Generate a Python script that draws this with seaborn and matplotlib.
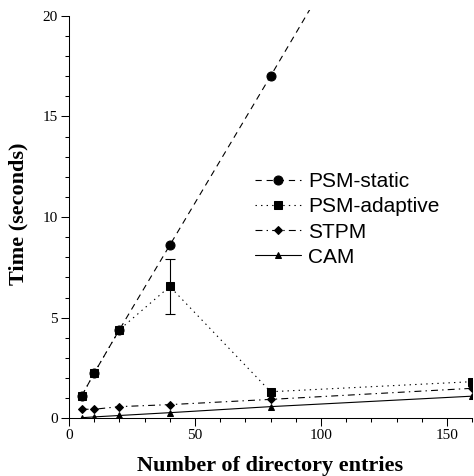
import numpy as np
import pandas as pd
import matplotlib
matplotlib.use("Agg")
import matplotlib.pyplot as plt
from matplotlib.ticker import MultipleLocator
import seaborn as sns

# ---- data ----
entries = [5, 10, 20, 40, 80, 160]
psm_static = [1.1, 2.25, 4.4, 8.6, 17.0, 34.0]
psm_adaptive = [1.1, 2.25, 4.4, 6.55, 1.32, 1.82]
stpm = [0.45, 0.45, 0.58, 0.68, 0.94, 1.49]
cam = [0.03, 0.07, 0.14, 0.28, 0.58, 1.1]
adaptive_err_x = [40]
adaptive_err_y = [6.55]
adaptive_err_lo = [1.35]
adaptive_err_hi = [1.35]
series_names = ["PSM-static", "PSM-adaptive", "STPM", "CAM"]

sns.set_theme(style="ticks")
plt.rcParams["lines.scale_dashes"] = False
serif = ["Liberation Serif", "DejaVu Serif"]
sans = ["Liberation Sans", "DejaVu Sans"]

fig = plt.figure(figsize=(4.74, 4.76), dpi=100)
ax = fig.add_axes([0.1456, 0.1212, 0.8504, 0.8584])

styles = {
    "PSM-static": dict(marker="o", markersize=6.5, dashes=(4.5, 3.5)),
    "PSM-adaptive": dict(marker="s", markersize=6.0, dashes=(1, 3)),
    "STPM": dict(marker="D", markersize=4.5, dashes=(5, 3, 1, 3)),
    "CAM": dict(marker="^", markersize=5.0, dashes=()),
}
values = {"PSM-static": psm_static, "PSM-adaptive": psm_adaptive,
          "STPM": stpm, "CAM": cam}

for name in series_names:
    st = styles[name]
    df = pd.DataFrame({"x": entries, "y": values[name]})
    kw = dict(color="black", linewidth=0.8, marker=st["marker"],
              markersize=st["markersize"], markeredgecolor="black",
              markerfacecolor="black", label=name)
    if st["dashes"]:
        kw["dashes"] = st["dashes"]
    sns.lineplot(data=df, x="x", y="y", ax=ax, **kw)

ax.errorbar(adaptive_err_x, adaptive_err_y,
            yerr=[adaptive_err_lo, adaptive_err_hi], fmt="none",
            ecolor="black", elinewidth=0.8, capsize=3.5, capthick=0.8)

ax.set_xlim(0, 160)
ax.set_ylim(0, 20.3)
ax.spines["top"].set_visible(False)
ax.spines["right"].set_visible(False)
ax.spines["left"].set_bounds(0, 20)
for s in ["left", "bottom"]:
    ax.spines[s].set_linewidth(0.75)
    ax.spines[s].set_color("black")

ax.set_xticks([0, 50, 100, 150])
ax.set_yticks([0, 5, 10, 15, 20])
ax.xaxis.set_minor_locator(MultipleLocator(10))
ax.yaxis.set_minor_locator(MultipleLocator(1))
ax.tick_params(which="major", direction="out", length=6, width=0.75,
               color="black", labelsize=11, pad=2)
ax.tick_params(which="minor", direction="out", length=3, width=0.75,
               color="black")
for lab in ax.get_xticklabels() + ax.get_yticklabels():
    lab.set_fontfamily(serif)
    lab.set_color("black")

ax.set_xlabel("Number of directory entries", fontsize=16, fontweight="bold",
              family=serif, color="black", labelpad=10)
ax.set_ylabel("Time (seconds)", fontsize=16, fontweight="bold",
              family=serif, color="black", labelpad=10)
ax.grid(False)

leg = ax.legend(loc="upper left", bbox_to_anchor=(255 / 474, 1 - 172 / 476),
                bbox_transform=fig.transFigure, frameon=False,
                borderpad=0, borderaxespad=0, handlelength=2.2,
                handletextpad=0.35, labelspacing=0.3,
                prop=dict(family=sans, size=15))
for t in leg.get_texts():
    t.set_color("black")

fig.savefig("out.png", dpi=100)
